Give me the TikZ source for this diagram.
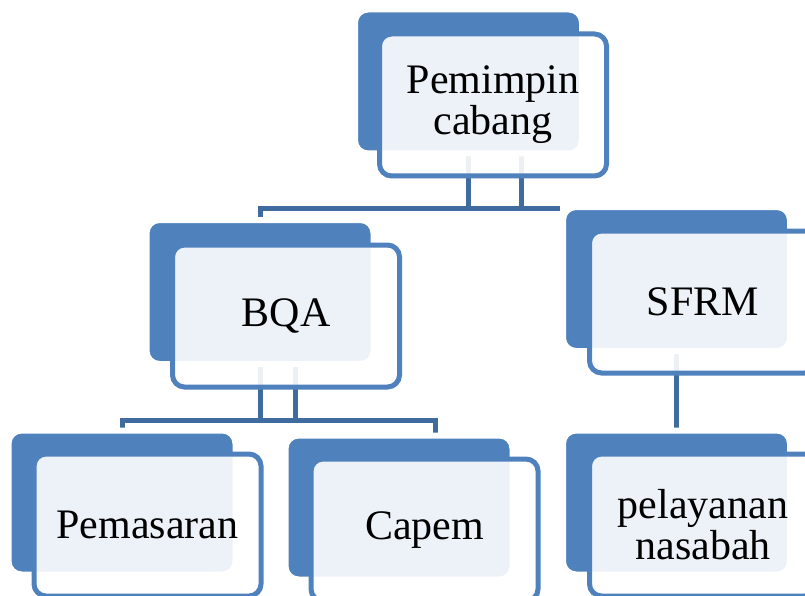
\documentclass[tikz,border=0pt]{standalone}
\usepackage{fontspec}
\setmainfont{Liberation Serif}
\usetikzlibrary{backgrounds}

\definecolor{boxblue}{HTML}{4F81BD}
\definecolor{lineblue}{HTML}{3F6B9F}

\tikzset{
  backbox/.style={fill=boxblue,draw=white,line width=6pt,rounded corners=13pt,
    minimum width=227pt,minimum height=144pt,inner sep=0pt},
  frontbox/.style={fill=white,fill opacity=0.9,text opacity=1,draw=boxblue,line width=5pt,
    rounded corners=12pt,minimum width=227pt,minimum height=142pt,inner sep=0pt,
    align=center,font=\fontsize{42pt}{41pt}\selectfont},
  link/.style={draw=lineblue,line width=5pt}
}

\begin{document}
\begin{tikzpicture}[x=1pt,y=-1pt]
  \useasboundingbox (0,0) rectangle (805,596);
  \clip (0,0) rectangle (805,596);

  \node[backbox] (pc-back) at (468.5,81.5) {};
  \node[frontbox] (pc) at ([shift={(24.5,23.5)}]pc-back) {Pemimpin\\cabang};

  \node[backbox] (bqa-back) at (260,292) {};
  \node[frontbox] (bqa) at ([shift={(26,24)}]bqa-back) {BQA};

  \node[backbox] (sfrm-back) at (676.5,279) {};
  \node[frontbox] (sfrm) at ([shift={(26.5,23)}]sfrm-back) {SFRM};

  \node[backbox] (pem-back) at (122,502.5) {};
  \node[frontbox] (pem) at ([shift={(25.5,22.5)}]pem-back) {Pemasaran};

  \node[backbox] (cap-back) at (399,507.5) {};
  \node[frontbox] (cap) at ([shift={(25.5,22.5)}]cap-back) {Capem};

  \node[backbox] (pel-back) at (676.5,502.5) {};
  \node[frontbox] (pel) at ([shift={(26.5,22.5)}]pel-back) {pelayanan\\nasabah};

  \begin{scope}[on background layer]
    \coordinate (hubtop) at (0,208);
    \coordinate (hubmid) at (0,420);
    \coordinate (pc-r) at ([xshift=53pt]pc-back.center);
    \coordinate (bqa-r) at ([xshift=35pt]bqa-back.center);
    \coordinate (cap-in) at ([xshift=36pt]cap-back.center);

    \draw[link] (pc-back.center) -- (pc-back.center |- hubtop);
    \draw[link] (pc-r) -- (pc-r |- hubtop);
    \draw[link] (bqa-back.center) |- (hubtop -| sfrm-back.west);

    \draw[link] (bqa-back.center) -- (bqa-back.center |- hubmid);
    \draw[link] (bqa-r) -- (bqa-r |- hubmid);
    \draw[link] (pem-back.center) |- (hubmid -| cap-in) -- (cap-in);

    \draw[link] (sfrm-back.center) -- (pel-back.center);
  \end{scope}
\end{tikzpicture}
\end{document}
